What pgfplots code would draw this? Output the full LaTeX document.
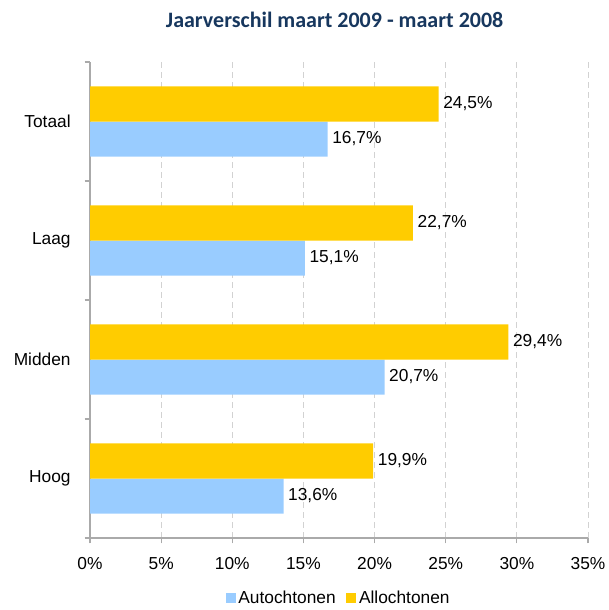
\documentclass[border=0pt]{standalone}
\usepackage{pgfplots}
\pgfplotsset{compat=1.18}
\usepackage{fontspec}
\setmainfont{Liberation Sans}
\newfontfamily\titlefont{Carlito}
\definecolor{ayellow}{RGB}{255,204,0}
\definecolor{ablue}{RGB}{153,204,255}
\definecolor{titleblue}{RGB}{23,55,94}
\definecolor{axgray}{RGB}{170,170,170}
\definecolor{gridgray}{RGB}{210,210,210}
\begin{document}
\begin{tikzpicture}
\useasboundingbox (0,0) rectangle (456pt,457.5pt);
\begin{axis}[
  at={(67.5pt,54pt)}, anchor=south west,
  scale only axis, width=373.5pt, height=357pt,
  xbar, bar width=26.25pt,
  xmin=0, xmax=35, ymin=-0.5, ymax=3.5,
  xtick={0,5,...,35},
  xticklabels={0\%,5\%,10\%,15\%,20\%,25\%,30\%,35\%},
  ytick={-0.5,0.5,1.5,2.5,3.5},
  yticklabels={},
  extra y ticks={0,1,2,3},
  extra y tick labels={Hoog,Midden,Laag,Totaal},
  extra y tick style={tick style={draw=none}},
  major tick length=4pt,
  tick align=outside,
  axis x line*=bottom, axis y line*=left,
  x axis line style={axgray, line width=0.8pt, -},
  y axis line style={axgray, line width=0.8pt, -},
  tick style={axgray, line width=0.8pt},
  xmajorgrids, major x grid style={gridgray, dash pattern=on 4.5pt off 3pt, line width=0.6pt},
  ticklabel style={font=\fontsize{13}{15}\selectfont, text=black},
  xticklabel style={yshift=-7pt},
  yticklabel style={xshift=-7pt},
  nodes near coords={\pgfmathprintnumber[fixed,precision=1,fixed zerofill,use comma,assume math mode=true]{\pgfplotspointmeta}\%},
  nodes near coords style={font=\fontsize{13}{15}\selectfont, anchor=west, xshift=0pt, text=black},
  point meta=explicit,
  legend style={at={(0.5,-0.102)}, anchor=north, draw=none, legend columns=2,
    inner sep=1pt, font=\fontsize{13}{15}\selectfont, /tikz/every even column/.append style={column sep=6pt}},
  legend image code/.code={\fill[#1] (0pt,-3.75pt) rectangle (7.5pt,3.75pt);},
  clip=false,
]
\addplot[fill=ablue, draw=none, bar shift=-13.125pt] coordinates {
  (13.6,0) [13.6] (20.7,1) [20.7] (15.1,2) [15.1] (16.7,3) [16.7]};
\addlegendentry{Autochtonen}
\addplot[fill=ayellow, draw=none, bar shift=13.125pt] coordinates {
  (19.9,0) [19.9] (29.4,1) [29.4] (22.7,2) [22.7] (24.5,3) [24.5]};
\addlegendentry{Allochtonen}
\end{axis}
\node[font=\titlefont\bfseries\fontsize{16.5}{18}\selectfont, text=titleblue] at (251pt,442.5pt) {Jaarverschil maart 2009 - maart 2008};
\end{tikzpicture}
\end{document}
